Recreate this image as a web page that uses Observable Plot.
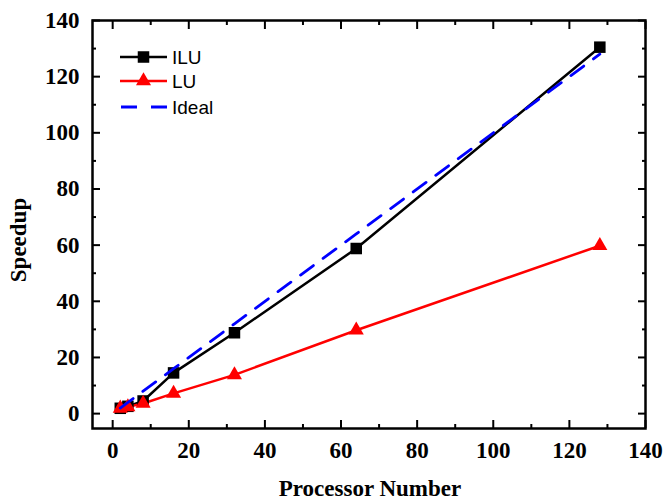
<!DOCTYPE html>
<html>
<head>
<meta charset="utf-8">
<script src="https://cdn.jsdelivr.net/npm/d3@7"></script>
<script src="https://cdn.jsdelivr.net/npm/@observablehq/plot@0.6"></script>
<style>
  html, body { margin: 0; padding: 0; background: #fff; }
  #chart { width: 665px; height: 503px; }
</style>
</head>
<body>
<div id="chart"></div>
<script>
// ---- data ----
const processors    = [2, 4, 8, 16, 32, 64, 128];
const iluSpeedup    = [1.9, 2.6, 4.5, 14.5, 28.8, 58.8, 130.5];
const luSpeedup     = [1.9, 2.4, 3.6, 7.2, 13.8, 29.7, 59.8];
const idealSpeedup  = [2, 4, 8, 16, 32, 64, 128];
const seriesNames   = ["ILU", "LU", "Ideal"];
const majorTicks    = [0, 20, 40, 60, 80, 100, 120, 140];
const minorTicks    = [10, 30, 50, 70, 90, 110, 130];
const xTitle = "Processor Number";
const yTitle = "Speedup";

const ilu   = processors.map((p, i) => ({x: p, y: iluSpeedup[i]}));
const lu    = processors.map((p, i) => ({x: p, y: luSpeedup[i]}));
const ideal = processors.map((p, i) => ({x: p, y: idealSpeedup[i]}));

const colors = {ILU: "#000000", LU: "#ff0000", Ideal: "#0000ff"};
const tickW = 2;
const serif = "'Liberation Serif', 'Times New Roman', serif";
const lab = {fontSize: 23, fontWeight: "bold", fontFamily: serif};

const chart = Plot.plot({
  width: 665,
  height: 503,
  marginLeft: 92,
  marginRight: 20,
  marginTop: 20,
  marginBottom: 75,
  x: {domain: [-5.3, 140]},
  y: {domain: [-5.3, 140]},
  style: {fontFamily: serif, fontSize: "23px", fontWeight: "bold", color: "#000", background: "#fff"},
  marks: [
    // bottom / left labelled axes with inward ticks
    Plot.axisX(majorTicks, {anchor: "bottom", tickSize: -8, tickPadding: 21, strokeWidth: tickW, label: null, ...lab}),
    Plot.axisX(minorTicks, {anchor: "bottom", tickSize: -4, fill: "none", strokeWidth: tickW, label: null}),
    Plot.axisY(majorTicks, {anchor: "left", tickSize: -8, tickPadding: 21, strokeWidth: tickW, label: null, ...lab}),
    Plot.axisY(minorTicks, {anchor: "left", tickSize: -4, fill: "none", strokeWidth: tickW, label: null}),
    // mirrored ticks on top / right
    Plot.axisX(majorTicks, {anchor: "top", tickSize: -8, fill: "none", strokeWidth: tickW, label: null}),
    Plot.axisX(minorTicks, {anchor: "top", tickSize: -4, fill: "none", strokeWidth: tickW, label: null}),
    Plot.axisY(majorTicks, {anchor: "right", tickSize: -8, fill: "none", strokeWidth: tickW, label: null}),
    Plot.axisY(minorTicks, {anchor: "right", tickSize: -4, fill: "none", strokeWidth: tickW, label: null}),
    // series
    Plot.line(ilu, {x: "x", y: "y", stroke: colors.ILU, strokeWidth: 2.5}),
    Plot.line(lu, {x: "x", y: "y", stroke: colors.LU, strokeWidth: 2.5}),
    Plot.dot(ilu, {x: "x", y: "y", symbol: "square", r: 6.5, fill: colors.ILU, stroke: "none"}),
    Plot.dot(lu, {x: "x", y: "y", symbol: "triangle", r: 5.6, fill: colors.LU, stroke: "none"}),
    Plot.line(ideal, {x: "x", y: "y", stroke: colors.Ideal, strokeWidth: 2.8, strokeDasharray: "16,12"}),
    Plot.frame({stroke: "#000", strokeWidth: 2.5})
  ]
});

document.getElementById("chart").appendChild(chart);

// force the serif bold face on the tick labels
chart.querySelectorAll("text").forEach(t => {
  t.style.fontFamily = serif;
  t.style.fontWeight = "bold";
  t.style.fontSize = "23px";
});

// ---- axis titles and legend ----
const svg = d3.select(chart);
svg.append("text")
  .attr("x", 370).attr("y", 496)
  .attr("text-anchor", "middle")
  .style("font-family", serif)
  .style("font-weight", "bold").style("font-size", "23px")
  .text(xTitle);
svg.append("text")
  .attr("transform", "translate(26,240) rotate(-90)")
  .attr("text-anchor", "middle")
  .style("font-family", serif)
  .style("font-weight", "bold").style("font-size", "23px")
  .text(yTitle);

const legend = svg.append("g");
const legendY = [57, 81, 107];
seriesNames.forEach((name, i) => {
  const g = legend.append("g").attr("transform", `translate(0,${legendY[i]})`);
  const line = g.append("line").attr("x1", 120).attr("x2", 167).attr("y1", 0).attr("y2", 0)
    .attr("stroke", colors[name]).attr("stroke-width", name === "Ideal" ? 2.8 : 2.5);
  if (name === "Ideal") line.attr("stroke-dasharray", "16,14").attr("x1", 121);
  if (name === "ILU") g.append("path").attr("transform", "translate(143.5,0)")
    .attr("d", d3.symbol(d3.symbolSquare, Math.PI * 6.5 * 6.5)()).attr("fill", colors.ILU);
  if (name === "LU") g.append("path").attr("transform", "translate(143.5,0)")
    .attr("d", d3.symbol(d3.symbolTriangle, Math.PI * 5.6 * 5.6)()).attr("fill", colors.LU);
  g.append("text").attr("x", 172).attr("y", 7)
    .attr("text-anchor", "start")
    .style("font-family", "'Liberation Sans', Arial, sans-serif")
    .style("font-weight", "normal").style("font-size", "19px")
    .text(name);
});
</script>
</body>
</html>
